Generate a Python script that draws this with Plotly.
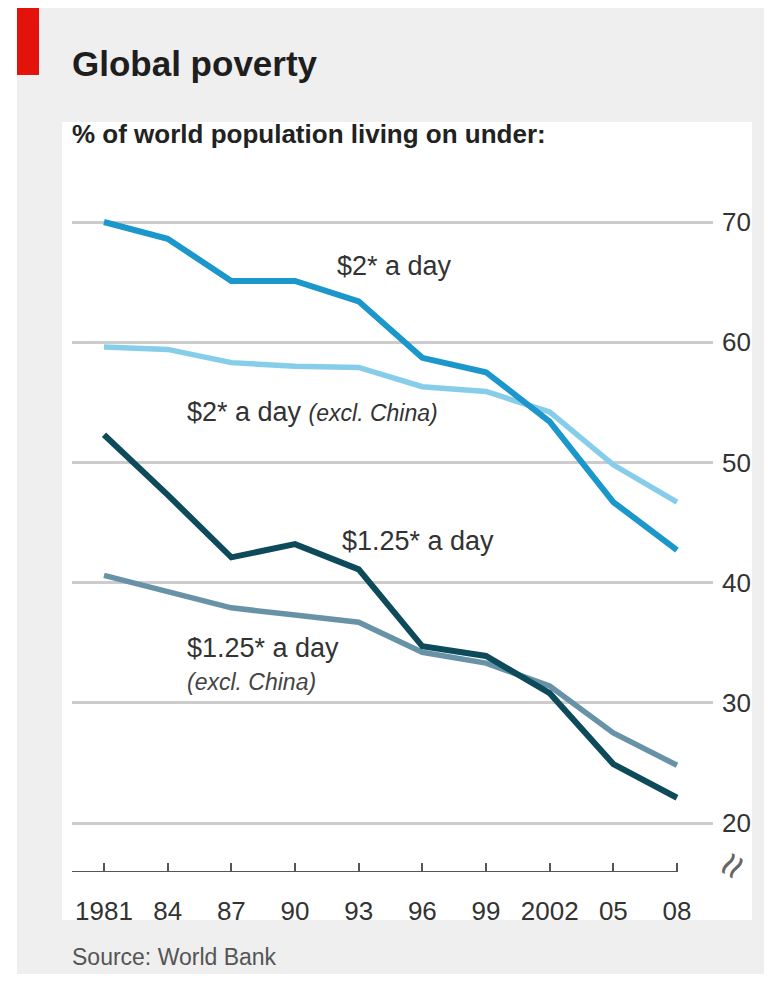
import plotly.graph_objects as go

years = [1981, 1984, 1987, 1990, 1993, 1996, 1999, 2002, 2005, 2008]
year_labels = ["1981", "84", "87", "90", "93", "96", "99", "2002", "05", "08"]

two_dollar = [70.0, 68.6, 65.1, 65.1, 63.4, 58.7, 57.5, 53.4, 46.7, 42.7]
two_dollar_ex_china = [59.6, 59.4, 58.3, 58.0, 57.9, 56.3, 55.9, 54.2, 49.8, 46.7]
one25_dollar = [52.3, 47.3, 42.1, 43.2, 41.1, 34.7, 33.9, 30.8, 24.9, 22.1]
one25_dollar_ex_china = [40.6, 39.2, 37.9, 37.3, 36.7, 34.2, 33.3, 31.4, 27.5, 24.8]

y_ticks = [20, 30, 40, 50, 60, 70]

# page puts the figure at (8, 8); coordinates below are screenshot pixels
OFF = 8
W, H = 756, 966
PL, PR, PT, PB = 72, 713, 160, 872
pw, ph = PR - PL, PB - PT

def px(x):
    return (x - PL) / pw

def py(y):
    return (PB - y) / ph

# axis scale: 1981 at x=104, 2008 at x=677
ppy = (677 - 104) / (2008 - 1981)
x0 = 1981 - (104 - PL) / ppy
x1 = 2008 + (PR - 677) / ppy
# y scale: 20 at y=823, 70 at y=222
ppv = (823 - 222) / 50
y0 = 20 - (PB - 823) / ppv
y1 = 70 + (222 - PT) / ppv

FONT = "Liberation Sans, Arial, sans-serif"

fig = go.Figure()

series = [
    (two_dollar_ex_china, "#86cdea", 5.5),
    (two_dollar, "#1b97cb", 6),
    (one25_dollar_ex_china, "#6893a6", 5.5),
    (one25_dollar, "#0d4a5a", 6),
]
for vals, col, w in series:
    fig.add_trace(go.Scatter(x=years, y=vals, mode="lines",
                             line=dict(color=col, width=w),
                             hoverinfo="skip", showlegend=False))

shapes = [
    dict(type="rect", xref="paper", yref="paper", x0=px(17), x1=px(790), y0=py(1000), y1=py(8),
         fillcolor="#efefef", line=dict(width=0), layer="below"),
    dict(type="rect", xref="paper", yref="paper", x0=px(62), x1=px(752), y0=py(920), y1=py(122),
         fillcolor="#ffffff", line=dict(width=0), layer="below"),
    dict(type="rect", xref="paper", yref="paper", x0=px(17), x1=px(39), y0=py(75), y1=py(8),
         fillcolor="#e3120b", line=dict(width=0), layer="below"),
    dict(type="line", xref="x", yref="y", x0=x0, x1=years[-1], y0=y0, y1=y0,
         line=dict(color="#555555", width=2)),
]

annotations = [
    dict(text="<b>Global poverty</b>", xref="paper", yref="paper", x=px(70), y=py(64),
         xanchor="left", yanchor="middle", showarrow=False,
         font=dict(family=FONT, size=35, color="#1e1e1e")),
    dict(text="<b>% of world population living on under:</b>", xref="paper", yref="paper",
         x=px(70), y=py(134), xanchor="left", yanchor="middle", showarrow=False,
         font=dict(family=FONT, size=26, color="#222222")),
    dict(text="Source: World Bank", xref="paper", yref="paper", x=px(70), y=py(957),
         xanchor="left", yanchor="middle", showarrow=False,
         font=dict(family=FONT, size=23, color="#555555")),
    dict(text="≈", xref="paper", yref="paper", x=px(731), y=py(865),
         xanchor="center", yanchor="middle", showarrow=False, textangle=-60,
         font=dict(family=FONT, size=44, color="#666666")),
    dict(text="$2* a day", xref="x", yref="y", x=1991.9, y=66.3,
         xanchor="left", yanchor="middle", showarrow=False,
         font=dict(family=FONT, size=27, color="#333333")),
    dict(text="$2* a day <i><span style='font-size:23px'>(excl. China)</span></i>", xref="x", yref="y",
         x=1984.8, y=54.2, xanchor="left", yanchor="middle", showarrow=False,
         font=dict(family=FONT, size=27, color="#333333")),
    dict(text="$1.25* a day", xref="x", yref="y", x=1992.1, y=43.5,
         xanchor="left", yanchor="middle", showarrow=False,
         font=dict(family=FONT, size=27, color="#333333")),
    dict(text="$1.25* a day", xref="x", yref="y", x=1984.8, y=34.6,
         xanchor="left", yanchor="middle", showarrow=False,
         font=dict(family=FONT, size=27, color="#333333")),
    dict(text="<i>(excl. China)</i>", xref="x", yref="y", x=1984.8, y=31.75,
         xanchor="left", yanchor="middle", showarrow=False,
         font=dict(family=FONT, size=23, color="#444444")),
]

fig.update_layout(
    width=W, height=H,
    margin=dict(l=PL - OFF, r=W - (PR - OFF), t=PT - OFF, b=H - (PB - OFF), pad=0),
    paper_bgcolor="#ffffff",
    plot_bgcolor="rgba(0,0,0,0)",
    shapes=shapes,
    annotations=annotations,
    showlegend=False,
    xaxis=dict(range=[x0, x1], tickvals=years, ticktext=year_labels,
               ticks="inside", ticklen=9, tickwidth=2, tickcolor="#555555",
               showgrid=False, zeroline=False, showline=False,
               ticklabelstandoff=21,
               tickfont=dict(family=FONT, size=26, color="#333333"), fixedrange=True),
    yaxis=dict(range=[y0, y1], tickvals=y_ticks, side="right",
               showgrid=True, gridcolor="#cccccc", gridwidth=3,
               zeroline=False, showline=False, ticks="",
               ticklabelstandoff=8,
               tickfont=dict(family=FONT, size=26, color="#333333"), fixedrange=True),
)

fig.write_html("out.html", config={"displayModeBar": False})
